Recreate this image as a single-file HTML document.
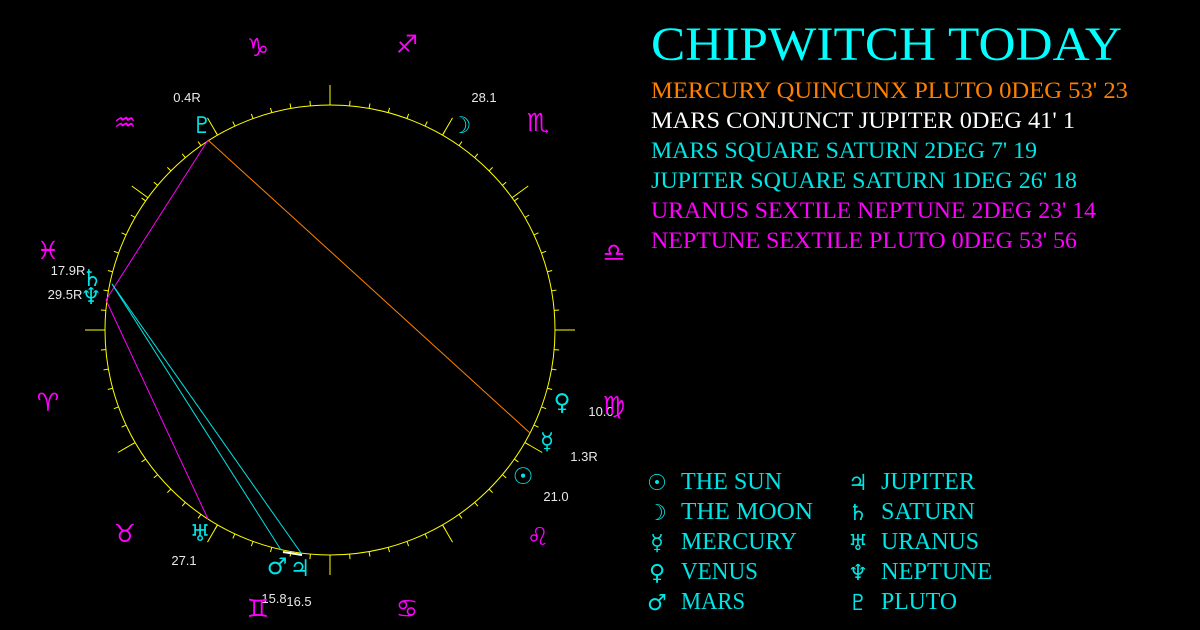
<!DOCTYPE html>
<html><head><meta charset="utf-8"><style>
html,body{margin:0;padding:0;background:#000;width:1200px;height:630px;overflow:hidden}
svg{display:block}
.g{font-family:"DejaVu Sans",sans-serif;fill:#00e5e5;font-size:23px;text-anchor:middle}
.z{font-family:"DejaVu Sans",sans-serif;fill:#ff00ff;font-size:25px;text-anchor:middle}
.n{font-family:"Liberation Sans",sans-serif;fill:#e8e8e8;font-size:13px;text-anchor:middle}
.t{font-family:"Liberation Serif",serif}
</style></head><body>
<svg id="s" width="1200" height="630" viewBox="0 0 1200 630" xmlns="http://www.w3.org/2000/svg">
<circle cx="330" cy="330" r="225" fill="none" stroke="#ffff00" stroke-width="1"/>
<g id="ticks" stroke="#ffff00" stroke-width="1"></g>
<line x1="208" y1="140" x2="530" y2="433" stroke="#ff8000" stroke-width="1"/>
<line x1="208" y1="140" x2="106" y2="300" stroke="#ff00ff" stroke-width="1"/>
<line x1="106" y1="300" x2="208" y2="519" stroke="#ff00ff" stroke-width="1"/>
<line x1="112" y1="284" x2="281" y2="550" stroke="#00e5e5" stroke-width="1"/>
<line x1="112" y1="284" x2="301" y2="553" stroke="#00e5e5" stroke-width="1"/>
<line x1="283" y1="552" x2="302" y2="555" stroke="#ffffff" stroke-width="2"/>

<text class="g" x="202" y="133">♇</text><text class="n" x="187" y="102">0.4R</text>
<text class="g" x="461" y="133">☽</text><text class="n" x="484" y="102">28.1</text>
<text class="g" x="92" y="286">♄</text><text class="n" x="68" y="275">17.9R</text>
<text class="g" x="91" y="304">♆</text><text class="n" x="65" y="299">29.5R</text>
<text class="g" x="562" y="410">♀</text><text class="n" x="601" y="416">10.0</text>
<text class="g" x="547" y="449">☿</text><text class="n" x="584" y="461">1.3R</text>
<text class="g" x="523" y="484">☉</text><text class="n" x="556" y="501">21.0</text>
<text class="g" x="200" y="541">♅</text><text class="n" x="184" y="565">27.1</text>
<text class="g" x="277" y="574">♂</text><text class="n" x="274" y="603">15.8</text>
<text class="g" x="300" y="576">♃</text><text class="n" x="299" y="606">16.5</text>

<text class="z" x="258" y="56">♑</text>
<text class="z" x="407" y="53">♐</text>
<text class="z" x="125" y="131">♒</text>
<text class="z" x="538" y="131">♏</text>
<text class="z" x="48" y="259">♓</text>
<text class="z" x="614" y="261">♎</text>
<text class="z" x="48" y="411">♈</text>
<text class="z" x="614" y="414">♍</text>
<text class="z" x="125" y="542">♉</text>
<text class="z" x="538" y="545">♌</text>
<text class="z" x="258" y="617">♊</text>
<text class="z" x="407" y="617">♋</text>

<text class="t" x="651" y="60" font-size="48" fill="#00ffff" textLength="471" lengthAdjust="spacingAndGlyphs">CHIPWITCH TODAY</text>
<g class="t" font-size="23">
<text x="651" y="98" fill="#ff8000" textLength="477" lengthAdjust="spacingAndGlyphs">MERCURY QUINCUNX PLUTO 0DEG 53' 23</text>
<text x="651" y="128" fill="#ffffff" textLength="424" lengthAdjust="spacingAndGlyphs">MARS CONJUNCT JUPITER 0DEG 41' 1</text>
<text x="651" y="158" fill="#00e5e5" textLength="386" lengthAdjust="spacingAndGlyphs">MARS SQUARE SATURN 2DEG 7' 19</text>
<text x="651" y="188" fill="#00e5e5" textLength="426" lengthAdjust="spacingAndGlyphs">JUPITER SQUARE SATURN 1DEG 26' 18</text>
<text x="651" y="218" fill="#ff00ff" textLength="445" lengthAdjust="spacingAndGlyphs">URANUS SEXTILE NEPTUNE 2DEG 23' 14</text>
<text x="651" y="248" fill="#ff00ff" textLength="426" lengthAdjust="spacingAndGlyphs">NEPTUNE SEXTILE PLUTO 0DEG 53' 56</text>
</g>
<g font-family="DejaVu Sans,sans-serif" font-size="22" fill="#00e5e5" text-anchor="middle">
<text x="657" y="490">☉</text><text x="657" y="520">☽</text><text x="657" y="550">☿</text><text x="657" y="580">♀</text><text x="657" y="610">♂</text>
<text x="858" y="490">♃</text><text x="858" y="520">♄</text><text x="858" y="550">♅</text><text x="858" y="580">♆</text><text x="858" y="610">♇</text>
</g>
<g class="t" font-size="24" fill="#00e5e5">
<text x="681" y="489" textLength="101" lengthAdjust="spacingAndGlyphs">THE SUN</text>
<text x="681" y="519" textLength="132" lengthAdjust="spacingAndGlyphs">THE MOON</text>
<text x="681" y="549" textLength="116" lengthAdjust="spacingAndGlyphs">MERCURY</text>
<text x="681" y="579" textLength="77" lengthAdjust="spacingAndGlyphs">VENUS</text>
<text x="681" y="609" textLength="64" lengthAdjust="spacingAndGlyphs">MARS</text>
<text x="881" y="489" textLength="94" lengthAdjust="spacingAndGlyphs">JUPITER</text>
<text x="881" y="519" textLength="94" lengthAdjust="spacingAndGlyphs">SATURN</text>
<text x="881" y="549" textLength="98" lengthAdjust="spacingAndGlyphs">URANUS</text>
<text x="881" y="579" textLength="111" lengthAdjust="spacingAndGlyphs">NEPTUNE</text>
<text x="881" y="609" textLength="76" lengthAdjust="spacingAndGlyphs">PLUTO</text>
</g>
</svg>
<script>
var g=document.getElementById('ticks'),ns='http://www.w3.org/2000/svg';
var big=[0,36,60,90,120,144,180,210,240,270,300,330];
function ln(a,r1,r2){var t=a*Math.PI/180,c=Math.cos(t),s=Math.sin(t);var l=document.createElementNS(ns,'line');
l.setAttribute('x1',330+r1*c);l.setAttribute('y1',330-r1*s);l.setAttribute('x2',330+r2*c);l.setAttribute('y2',330-r2*s);g.appendChild(l);}
for(var a=0;a<360;a+=5){ln(a,225,230);}
big.forEach(function(a){ln(a,225,245);});
</script>
</body></html>
